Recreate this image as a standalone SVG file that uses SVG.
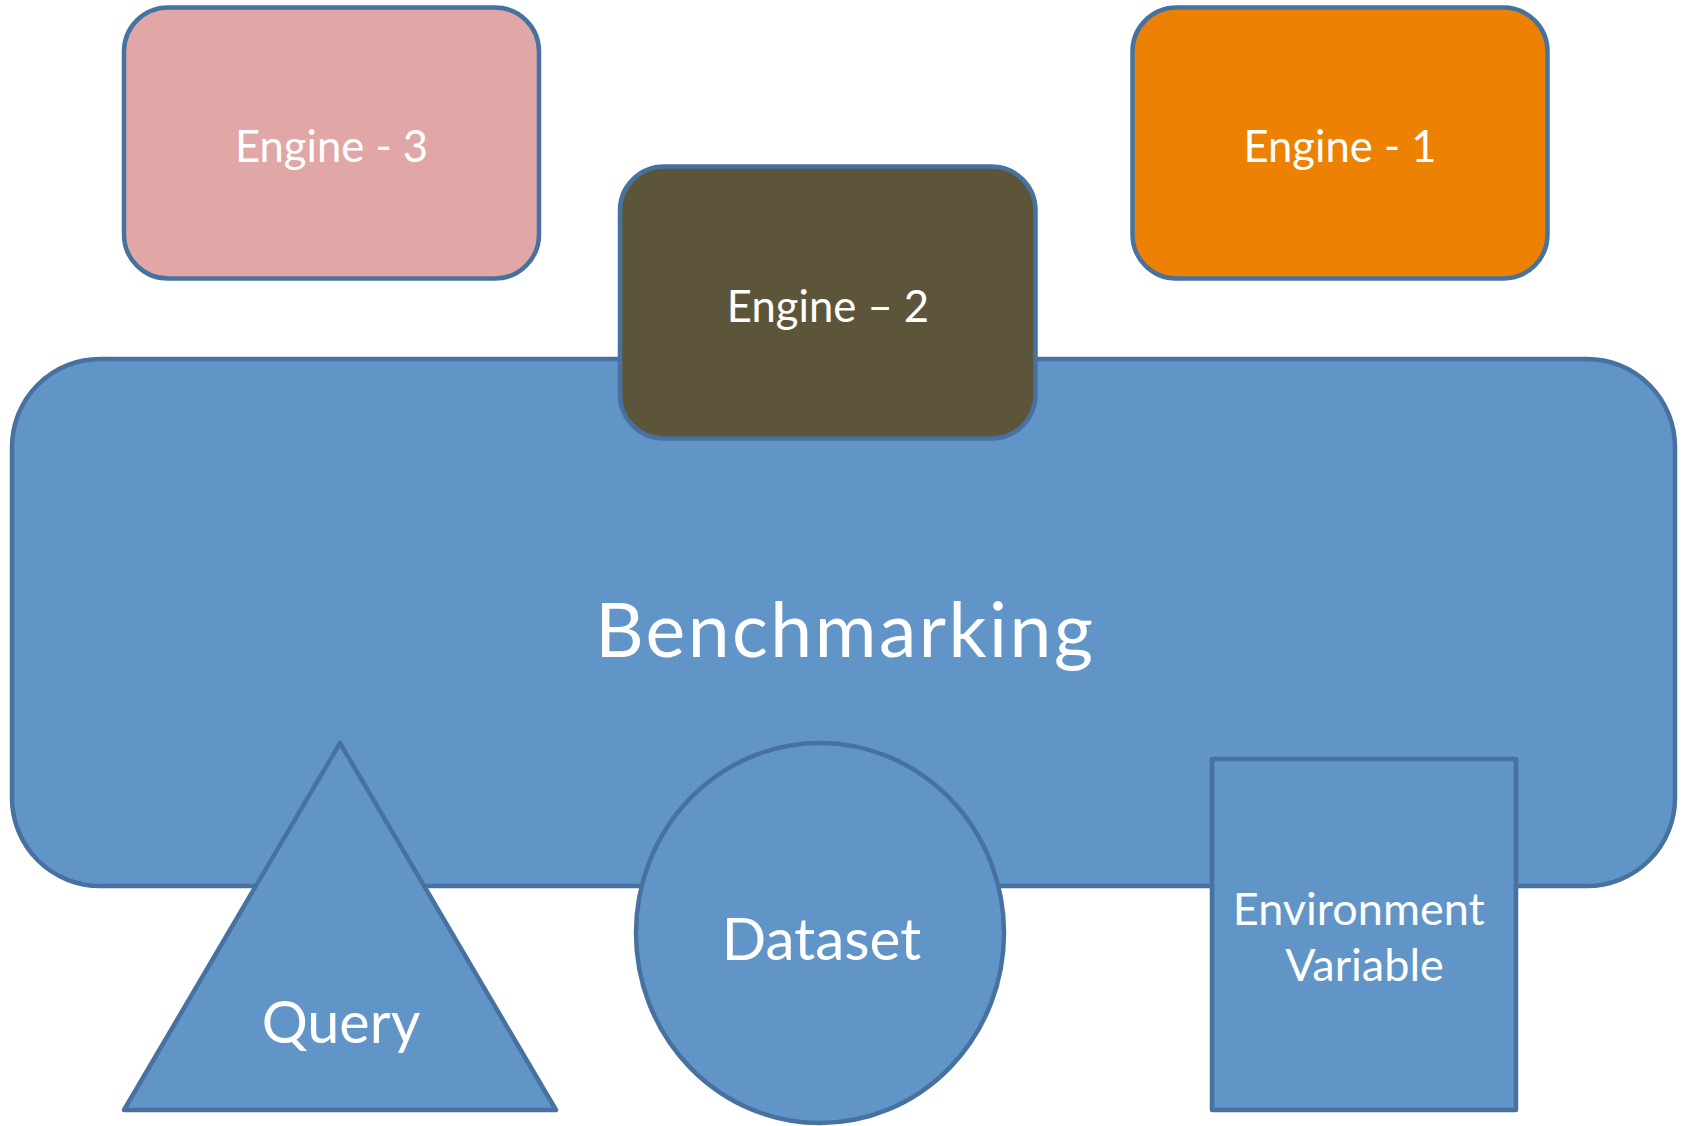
<svg xmlns="http://www.w3.org/2000/svg" width="1683" height="1126" viewBox="0 0 1683 1126">
  <style>
    .shape { stroke: #47729f; stroke-width: 4.5; stroke-linejoin: round; }
    .blue { fill: #6195c8; }
    .lbl { fill: #ffffff; font-family: Lato, "Open Sans", "Liberation Sans", sans-serif; text-anchor: middle; }
    .eng { font-size: 43.6px; }
  </style>
  <rect width="1683" height="1126" fill="#ffffff"/>

  <!-- central platform -->
  <g id="benchmarking">
    <rect class="shape blue" x="12" y="359" width="1663" height="527" rx="88" ry="88"/>
    <text class="lbl" x="845.3" y="657" font-size="75" letter-spacing="2.5">Benchmarking</text>
  </g>

  <!-- engines -->
  <g id="engine-3">
    <rect class="shape" fill="#e1a7a6" x="124" y="7.5" width="415" height="271" rx="44" ry="44"/>
    <text class="lbl eng" x="331.5" y="162.3">Engine - 3</text>
  </g>
  <g id="engine-2">
    <rect class="shape" fill="#5c5539" x="620" y="166.5" width="415.5" height="272" rx="44" ry="44"/>
    <text class="lbl eng" x="828" y="321.7">Engine – 2</text>
  </g>
  <g id="engine-1">
    <rect class="shape" fill="#ec8104" x="1132.5" y="7.5" width="415" height="271" rx="44" ry="44"/>
    <text class="lbl eng" x="1340" y="162.3">Engine - 1</text>
  </g>

  <!-- inputs -->
  <g id="query">
    <polygon class="shape blue" points="340,743 556,1110 124,1110"/>
    <text class="lbl" x="341" y="1043.3" font-size="57.5">Query</text>
  </g>
  <g id="dataset">
    <ellipse class="shape blue" cx="820" cy="933" rx="184" ry="190"/>
    <text class="lbl" x="821.5" y="960" font-size="58.5">Dataset</text>
  </g>
  <g id="environment-variable">
    <rect class="shape blue" x="1212" y="759" width="304" height="351"/>
    <text class="lbl" font-size="45">
      <tspan x="1364.5" y="925">Environment</tspan>
      <tspan x="1364.5" y="980.7">Variable</tspan>
    </text>
  </g>

  <g id="connectors"/>
</svg>
